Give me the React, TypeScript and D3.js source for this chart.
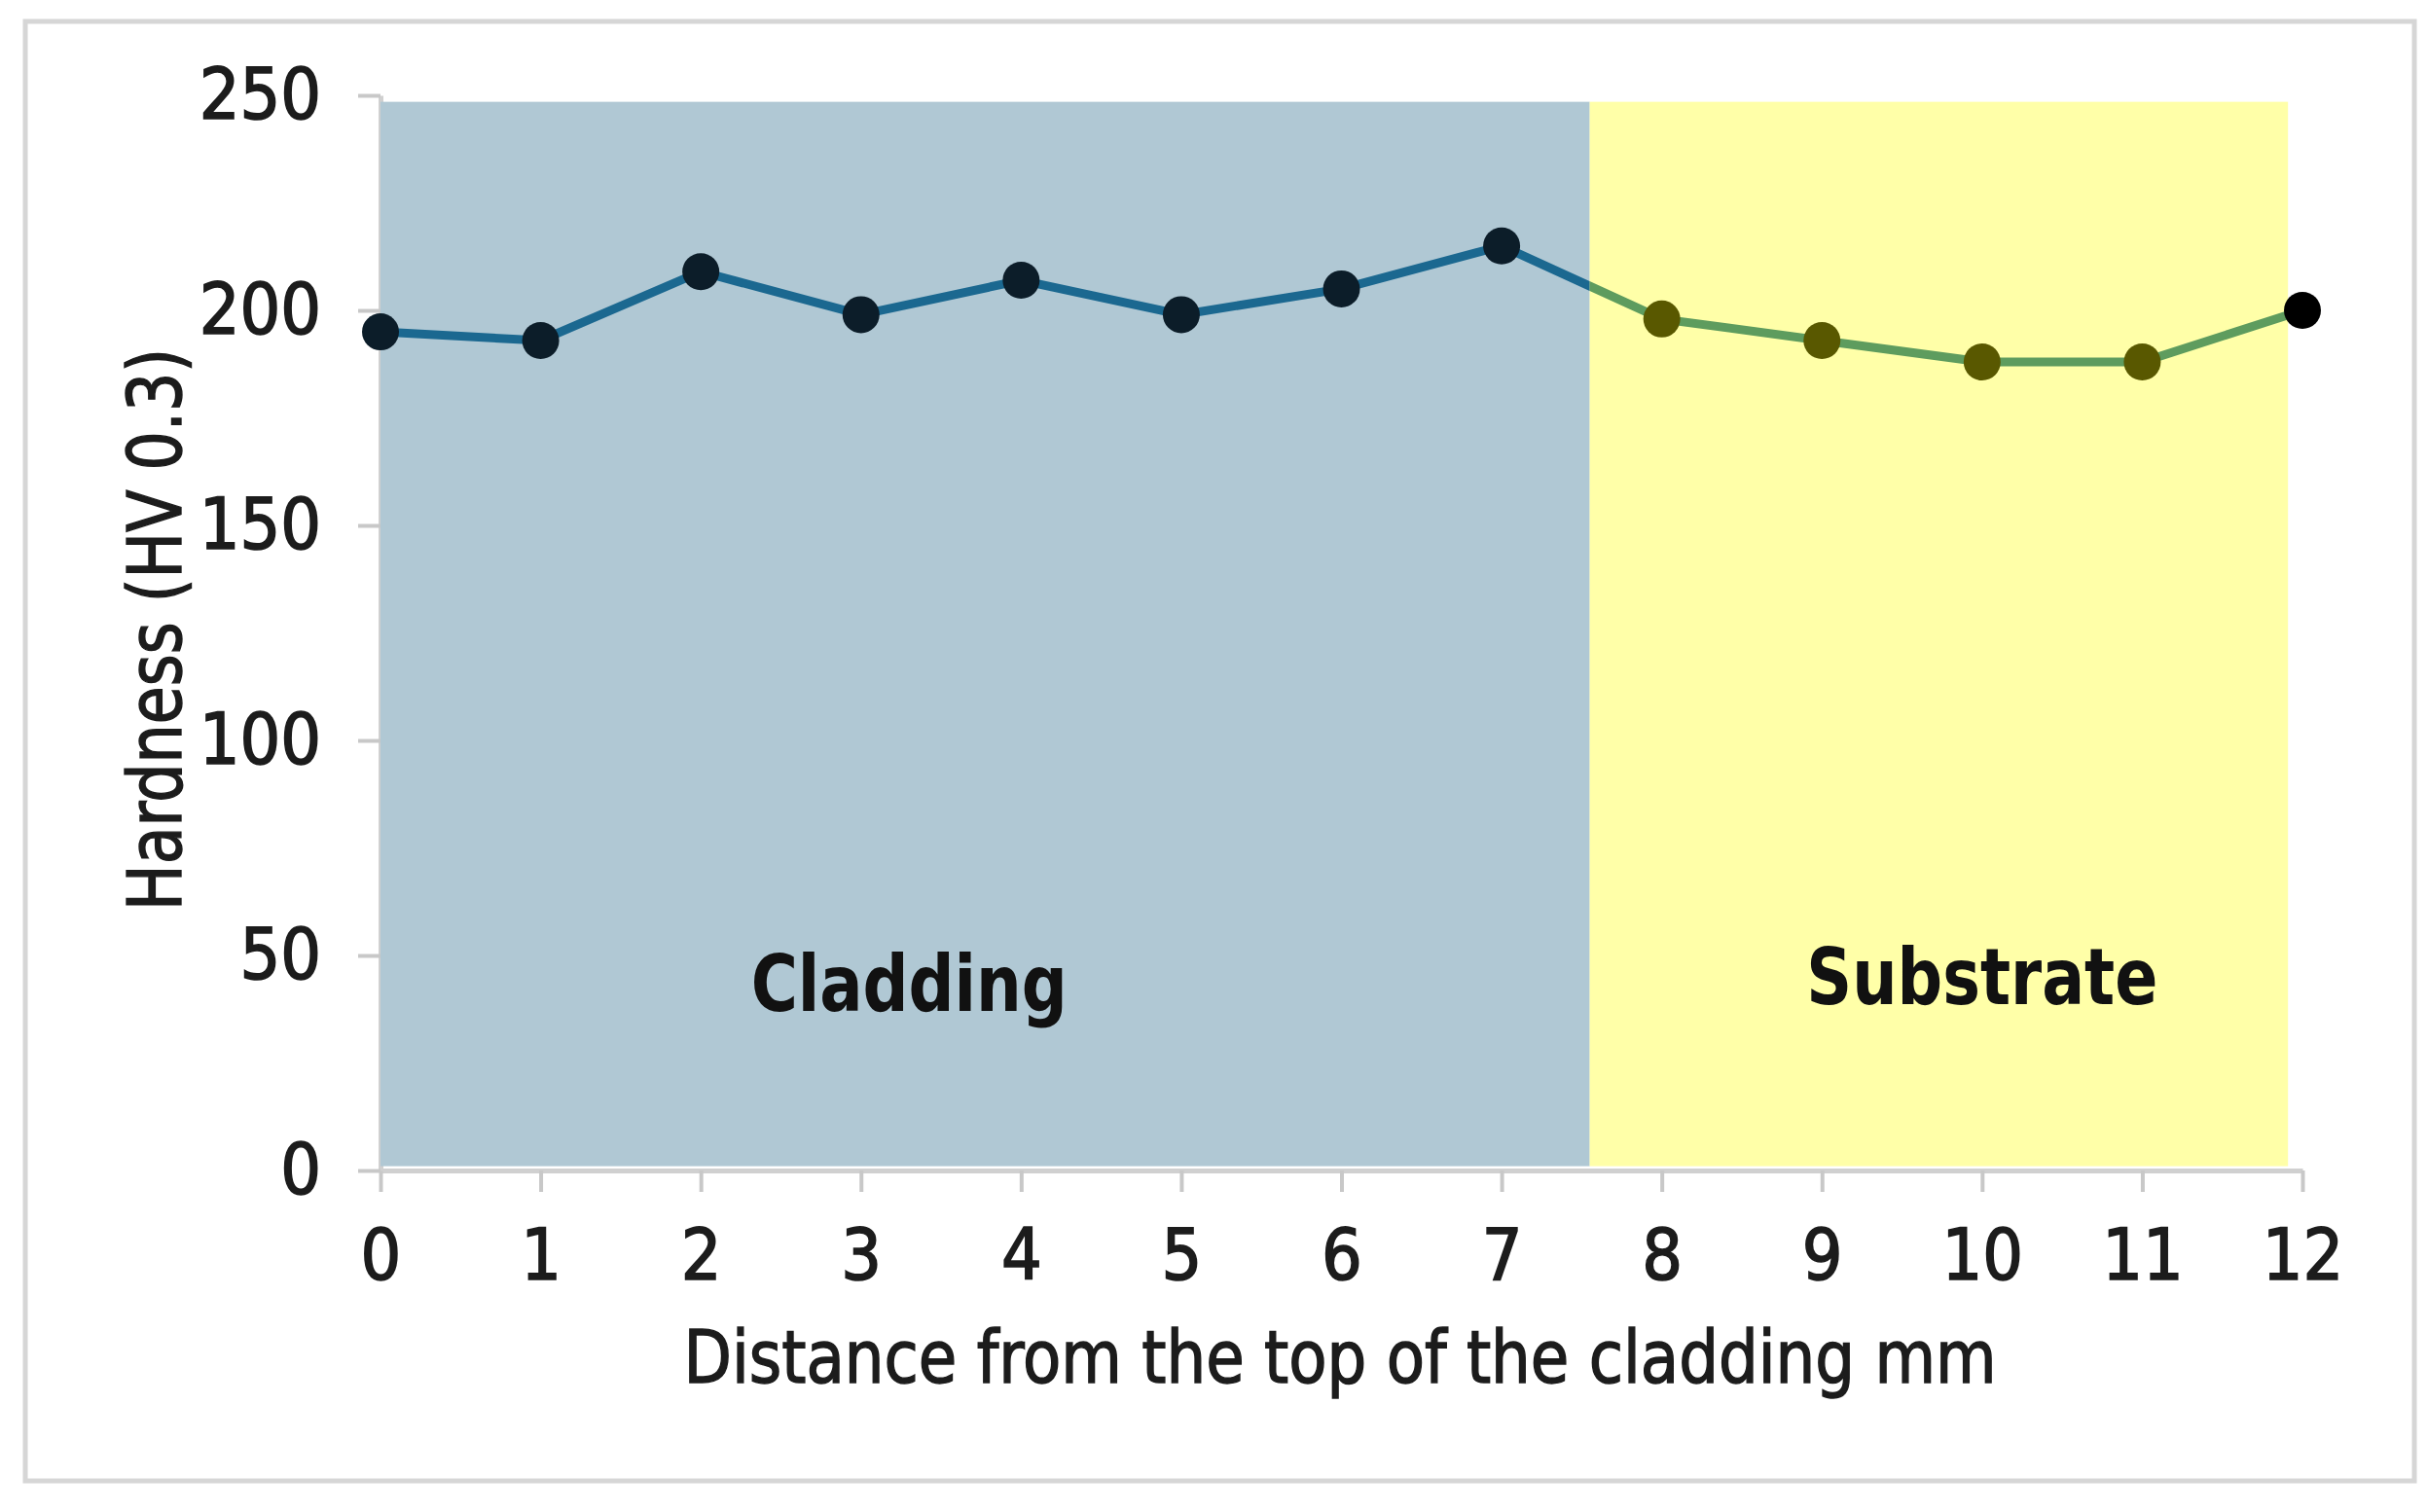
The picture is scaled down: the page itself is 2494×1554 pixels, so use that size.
import { useEffect, useRef } from "react";
import * as d3 from "d3";

const distances = [0, 1, 2, 3, 4, 5, 6, 7, 8, 9, 10, 11, 12];
const hardness = [195, 193, 209, 199, 207, 199, 205, 215, 198, 193, 188, 188, 200];
const yTicks = [0, 50, 100, 150, 200, 250];

const zoneNames = ["Cladding", "Substrate"];
const zoneStarts = [0, 7.55];
const zoneEnds = [7.55, 11.91];
const zoneTop = 248.5;
const zoneBottom = 1;

const FONT = "'DejaVu Sans Condensed', 'DejaVu Sans', sans-serif";

export default function App() {
  const svgRef = useRef<SVGSVGElement | null>(null);

  useEffect(() => {
    document.body.style.margin = "0";
    const svgElement = svgRef.current;
    if (!svgElement) return;

    const width = 2494;
    const height = 1554;

    const x = d3.scaleLinear().domain([0, 12]).range([391, 2366]);
    const y = d3.scaleLinear().domain([0, 250]).range([1203, 98]);

    const svg = d3.select(svgElement);
    svg.selectAll("*").remove();
    svg.attr("viewBox", `0 0 ${width} ${height}`);

    // outer frame
    svg
      .append("rect")
      .attr("x", 26)
      .attr("y", 22)
      .attr("width", 2455)
      .attr("height", 1500)
      .attr("fill", "#ffffff")
      .attr("stroke", "#d6d6d6")
      .attr("stroke-width", 5);

    const xAxis = svg
      .append("g")
      .attr("transform", `translate(0, ${y(0)})`)
      .call(d3.axisBottom(x).tickValues(distances).tickSize(22).tickSizeOuter(0).tickPadding(38));

    const yAxis = svg
      .append("g")
      .attr("transform", `translate(${x(0)}, 0)`)
      .call(d3.axisLeft(y).tickValues(yTicks).tickSize(23).tickSizeOuter(0).tickPadding(38));

    [xAxis, yAxis].forEach((axis) => {
      axis.select(".domain").attr("stroke", "#d0d0d0").attr("stroke-width", 5);
      axis.selectAll(".tick line").attr("stroke", "#c8c8c8").attr("stroke-width", 4);
      axis
        .selectAll(".tick text")
        .attr("font-family", FONT)
        .attr("font-size", 73)
        .attr("fill", "#1c1c1c")
        .attr("stroke", "#1c1c1c")
        .attr("stroke-width", 1.6);
    });

    // zone backgrounds
    const zoneFills = ["#b0c8d4", "#ffffa8"];
    svg
      .append("g")
      .selectAll("rect")
      .data(zoneNames)
      .join("rect")
      .attr("x", (_, i) => x(zoneStarts[i]))
      .attr("y", y(zoneTop))
      .attr("width", (_, i) => x(zoneEnds[i]) - x(zoneStarts[i]))
      .attr("height", y(zoneBottom) - y(zoneTop))
      .attr("fill", (_, i) => zoneFills[i]);

    // clip the line into the two zones
    const defs = svg.append("defs");
    defs
      .append("clipPath")
      .attr("id", "clip-cladding")
      .append("rect")
      .attr("x", 0)
      .attr("y", 0)
      .attr("width", x(zoneEnds[0]))
      .attr("height", height);
    defs
      .append("clipPath")
      .attr("id", "clip-substrate")
      .append("rect")
      .attr("x", x(zoneStarts[1]))
      .attr("y", 0)
      .attr("width", width - x(zoneStarts[1]))
      .attr("height", height);

    const points = distances.map((d, i) => [d, hardness[i]] as [number, number]);
    const line = d3
      .line<[number, number]>()
      .x((p) => x(p[0]))
      .y((p) => y(p[1]));

    svg
      .append("path")
      .datum(points)
      .attr("d", line)
      .attr("fill", "none")
      .attr("stroke", "#1b6890")
      .attr("stroke-width", 9)
      .attr("clip-path", "url(#clip-cladding)");

    svg
      .append("path")
      .datum(points)
      .attr("d", line)
      .attr("fill", "none")
      .attr("stroke", "#5e9c5e")
      .attr("stroke-width", 9)
      .attr("clip-path", "url(#clip-substrate)");

    const markerColor = (d: number) => {
      if (d >= zoneStarts[0] && d < zoneEnds[0]) return "#0c1d29";
      if (d >= zoneStarts[1] && d < zoneEnds[1]) return "#595800";
      return "#000000";
    };

    svg
      .append("g")
      .selectAll("circle")
      .data(points)
      .join("circle")
      .attr("cx", (p) => x(p[0]))
      .attr("cy", (p) => y(p[1]))
      .attr("r", 19)
      .attr("fill", (p) => markerColor(p[0]));

    // zone labels
    const labelAnchors: [number, number, number][] = [
      [3.3, 37, 325],
      [10.0, 38.7, 361],
    ];
    svg
      .append("g")
      .selectAll("text")
      .data(zoneNames)
      .join("text")
      .attr("x", (_, i) => x(labelAnchors[i][0]))
      .attr("y", (_, i) => y(labelAnchors[i][1]))
      .attr("text-anchor", "middle")
      .attr("font-family", FONT)
      .attr("font-weight", "bold")
      .attr("font-size", 80)
      .attr("fill", "#111111")
      .attr("textLength", (_, i) => labelAnchors[i][2])
      .attr("lengthAdjust", "spacingAndGlyphs")
      .text((d) => d);

    // axis titles
    svg
      .append("text")
      .attr("x", 1377)
      .attr("y", 1421)
      .attr("text-anchor", "middle")
      .attr("font-family", FONT)
      .attr("font-size", 74)
      .attr("fill", "#1c1c1c")
      .attr("stroke", "#1c1c1c")
      .attr("stroke-width", 1.4)
      .attr("textLength", 1349)
      .attr("lengthAdjust", "spacingAndGlyphs")
      .text("Distance from the top of the cladding mm");

    svg
      .append("text")
      .attr("transform", `translate(186, 647) rotate(-90)`)
      .attr("text-anchor", "middle")
      .attr("font-family", FONT)
      .attr("font-size", 76)
      .attr("fill", "#1c1c1c")
      .attr("stroke", "#1c1c1c")
      .attr("stroke-width", 1.4)
      .attr("textLength", 578)
      .attr("lengthAdjust", "spacingAndGlyphs")
      .text("Hardness (HV 0.3)");
  }, []);

  return (
    <svg
      ref={svgRef}
      width={2494}
      height={1554}
      style={{ display: "block", background: "#ffffff" }}
      role="img"
      aria-label="Hardness profile"
    />
  );
}
